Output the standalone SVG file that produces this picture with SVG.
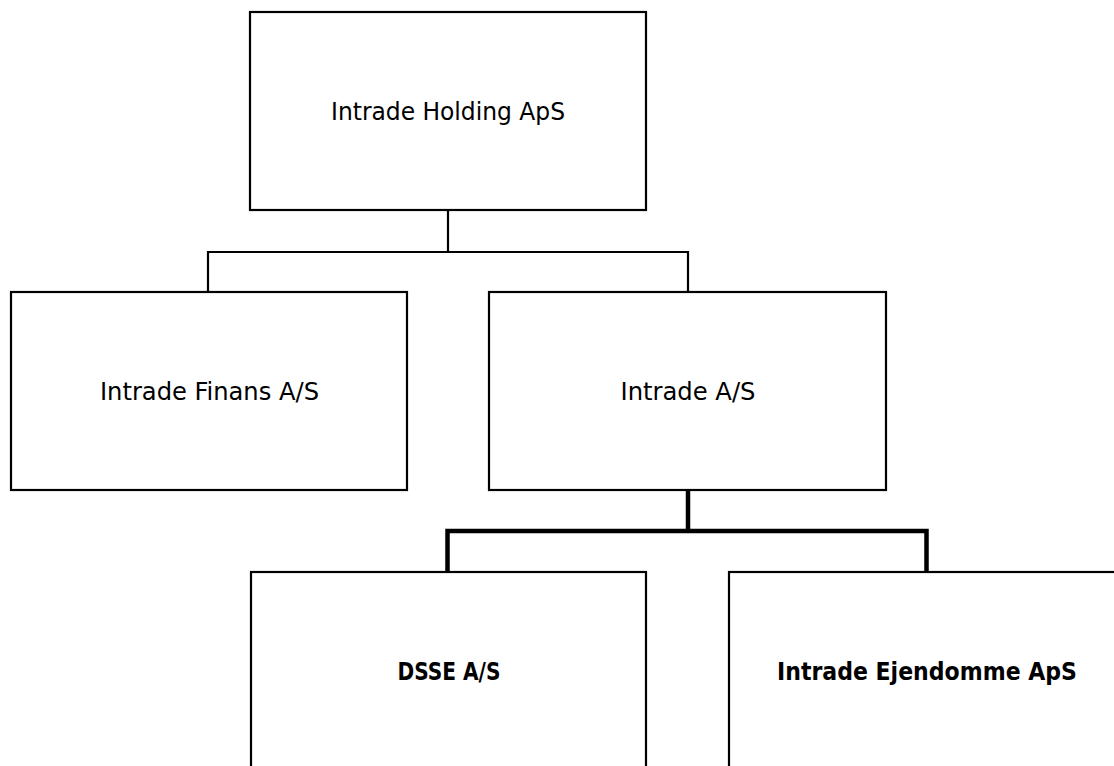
<svg xmlns="http://www.w3.org/2000/svg" width="1114" height="766" viewBox="0 0 1114 766">
<style>
.box{fill:#fff;stroke:#000;stroke-width:2.2}
.lbl{font-family:"DejaVu Sans Condensed","DejaVu Sans",sans-serif;font-size:25px;fill:#000;text-anchor:middle}
.b{font-weight:bold}
.thin{fill:none;stroke:#000;stroke-width:2.2}
.thick{fill:none;stroke:#000;stroke-width:4.5}
</style>
<rect width="1114" height="766" fill="#fff"/>
<g id="connectors">
<path class="thin" d="M448 210 V252 M208 292 V252 H688 V292"/>
<path class="thick" d="M688 490 V531"/>
<path class="thick" d="M447.5 572 V531 H926.5 V572" stroke-width="5"/>
</g>
<g id="holding">
<rect class="box" x="250" y="12" width="396" height="198"/>
<text class="lbl" x="448" y="120" textLength="234" lengthAdjust="spacingAndGlyphs">Intrade Holding ApS</text>
</g>
<g id="finans">
<rect class="box" x="11" y="292" width="396" height="198"/>
<text class="lbl" x="209.5" y="400" textLength="219" lengthAdjust="spacingAndGlyphs">Intrade Finans A/S</text>
</g>
<g id="intrade">
<rect class="box" x="489" y="292" width="397" height="198"/>
<text class="lbl" x="688" y="400" textLength="135" lengthAdjust="spacingAndGlyphs">Intrade A/S</text>
</g>
<g id="dsse">
<rect class="box" x="251" y="572" width="395" height="198"/>
<text class="lbl b" x="449" y="680" textLength="103" lengthAdjust="spacingAndGlyphs">DSSE A/S</text>
</g>
<g id="ejendomme">
<rect class="box" x="729" y="572" width="396" height="198"/>
<text class="lbl b" x="927" y="680" textLength="300" lengthAdjust="spacingAndGlyphs">Intrade Ejendomme ApS</text>
</g>
</svg>
